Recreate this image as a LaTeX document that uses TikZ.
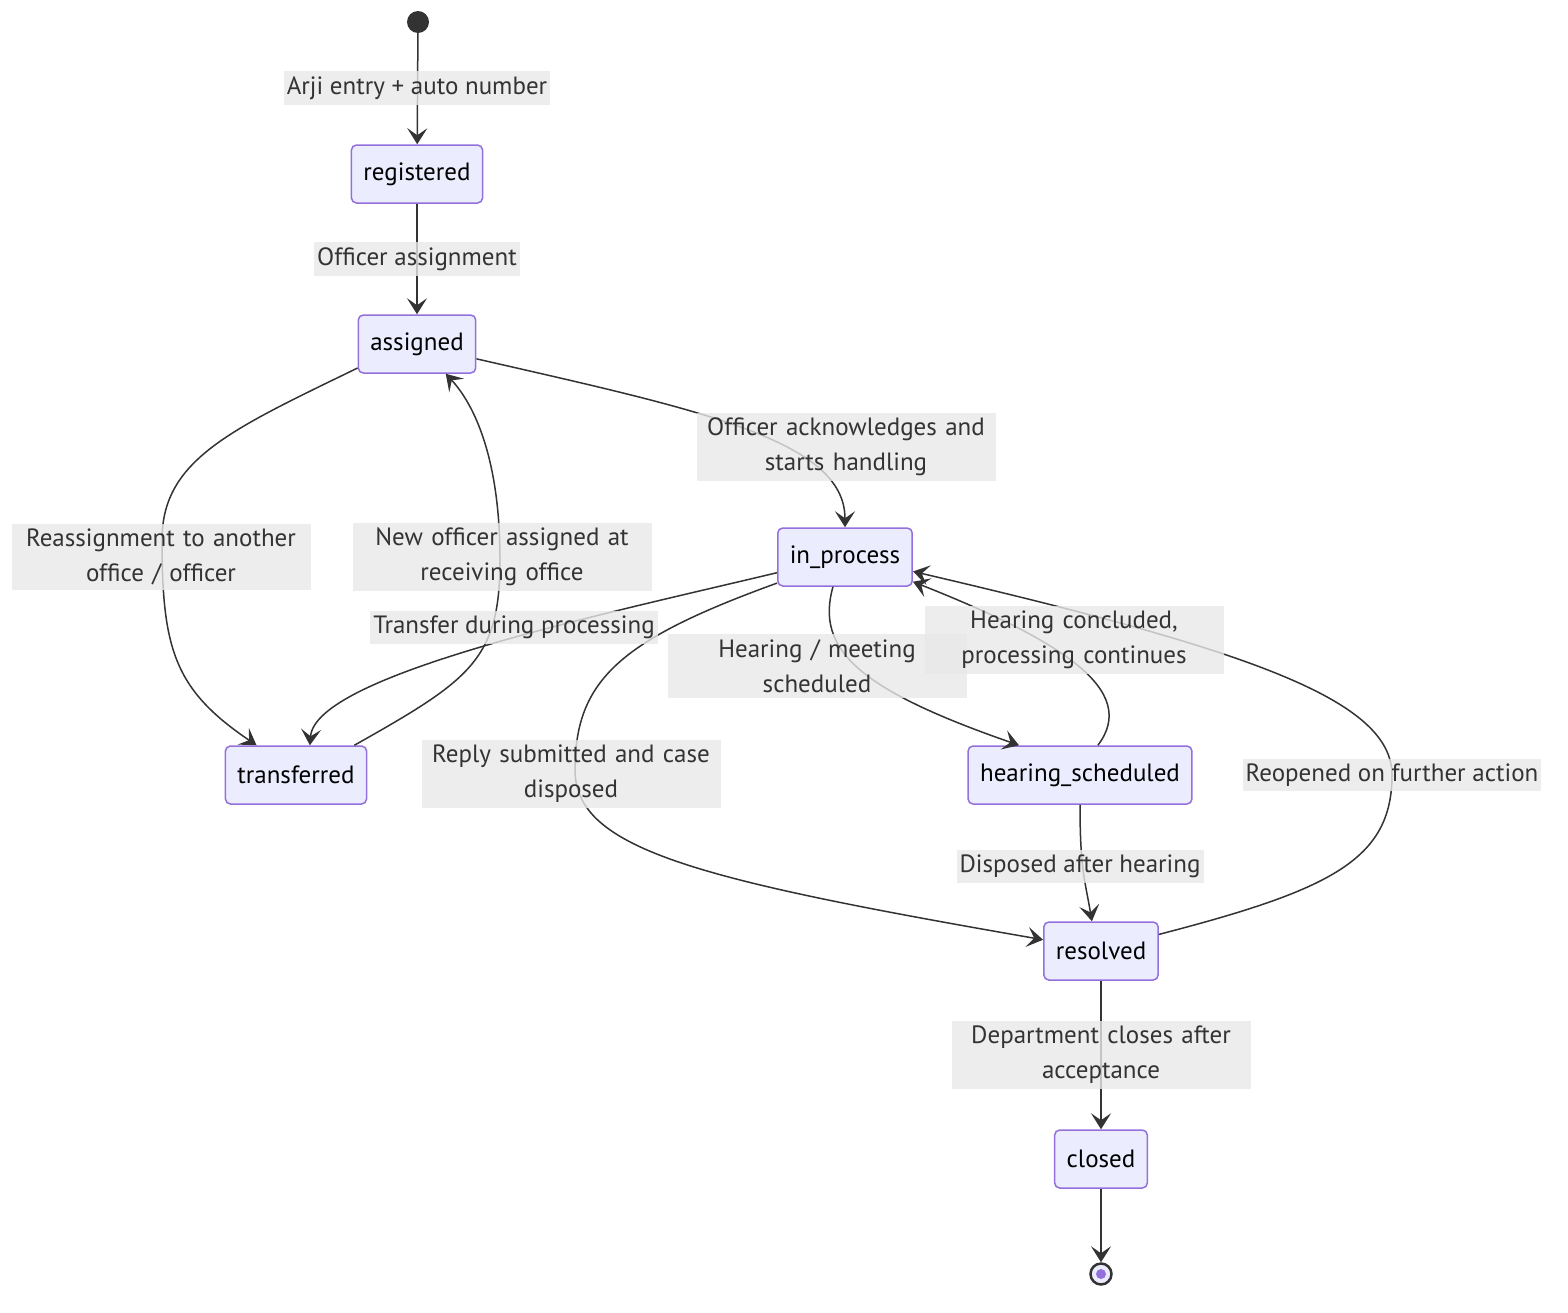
\documentclass[tikz,border=0pt]{standalone}
\usepackage{fontspec}
\setmainfont{PT Sans}
\usepackage{xcolor}
\usepackage{tikz}
\usetikzlibrary{arrows.meta}

\definecolor{statefill}{HTML}{ECECFF}
\definecolor{stateline}{HTML}{9370DB}
\definecolor{edgeline}{HTML}{333333}
\definecolor{labelbg}{HTML}{E8E8E8}

\begin{document}
\begin{tikzpicture}[
    x=1pt, y=-1pt,
    state/.style={rectangle, rounded corners=5pt, draw=stateline, fill=statefill, line width=1.5pt, minimum height=58pt, inner xsep=12pt, font=\fontsize{25}{35}\selectfont, text=black},
    startdot/.style={circle, fill=edgeline, minimum size=22pt, inner sep=0pt},
    enddot/.style={circle, draw=edgeline, line width=2.5pt, fill=statefill, minimum size=21pt, inner sep=0pt, path picture={\fill[stateline] (path picture bounding box.center) circle (5pt);}},
    elabel/.style={fill=labelbg, fill opacity=0.8, text opacity=1, text=edgeline, inner xsep=3pt, inner ysep=5pt, align=center, font=\fontsize{25}{35}\selectfont},
    wrapped/.style={elabel, text width=293pt},
    arrow/.style={-{Stealth[length=16pt, width=20pt, inset=7pt]}, line width=1.5pt, draw=edgeline}
]
\useasboundingbox (0,0) rectangle (1568,1312);

\node[startdot] (start) at (418,22) {};
\node[state] (registered) at (417,174) {registered};
\node[state] (assigned) at (417,344) {assigned};
\node[state] (in_process) at (845,557) {in\_process};
\node[state] (transferred) at (296,775) {transferred};
\node[state] (hearing) at (1080,775) {hearing\_scheduled};
\node[state] (resolved) at (1101,951) {resolved};
\node[state] (closed) at (1101,1159) {closed};
\node[enddot] (finish) at (1101,1274) {};

\draw[arrow] (start) -- (registered);
\draw[arrow] (registered) -- (assigned);
\draw[arrow] (assigned.-14) .. controls (700,410) and (845,440) .. (in_process.north);
\draw[arrow] (assigned.202) .. controls (230,430) and (162,460) .. (162,540) .. controls (162,650) and (175,690) .. (transferred.143);
\draw[arrow] (transferred.27) .. controls (470,680) and (500,660) .. (500,560) .. controls (500,450) and (470,400) .. (assigned.-46);
\draw[arrow] (in_process.193) .. controls (600,615) and (315,675) .. (transferred.65);
\draw[arrow] (in_process.-112) .. controls (815,650) and (860,690) .. (hearing.154);
\draw[arrow] (hearing.59) .. controls (1140,690) and (1060,640) .. (in_process.-20);
\draw[arrow] (in_process.201) .. controls (620,640) and (575,680) .. (575,770) .. controls (575,850) and (700,880) .. (resolved.169);
\draw[arrow] (hearing.south) .. controls (1080,870) and (1085,880) .. (resolved.107);
\draw[arrow] (resolved.16) .. controls (1330,890) and (1392,860) .. (1392,775) .. controls (1392,700) and (1250,650) .. (in_process.-12);
\draw[arrow] (resolved) -- (closed);
\draw[arrow] (closed) -- (finish);

\node[elabel] (l_entry) at (417,88) {Arji entry + auto number};
\node[elabel] (l_officer) at (417,259) {Officer assignment};
\node[wrapped] (l_ack) at (846,447) {Officer acknowledges and\\starts handling};
\node[wrapped] (l_reassign) at (161,557) {Reassignment to another\\office / officer};
\node[wrapped] (l_newofficer) at (502,557) {New officer assigned at\\receiving office};
\node[elabel] (l_transfer) at (514,627) {Transfer during processing};
\node[wrapped] (l_hearing) at (817,666) {Hearing / meeting\\scheduled};
\node[wrapped] (l_concluded) at (1074,640) {Hearing concluded,\\processing continues};
\node[wrapped] (l_reply) at (571,774) {Reply submitted and case\\disposed};
\node[elabel] (l_reopen) at (1392,775) {Reopened on further action};
\node[elabel] (l_disposed) at (1080,866) {Disposed after hearing};
\node[wrapped] (l_dept) at (1101,1055) {Department closes after\\acceptance};

\end{tikzpicture}
\end{document}
